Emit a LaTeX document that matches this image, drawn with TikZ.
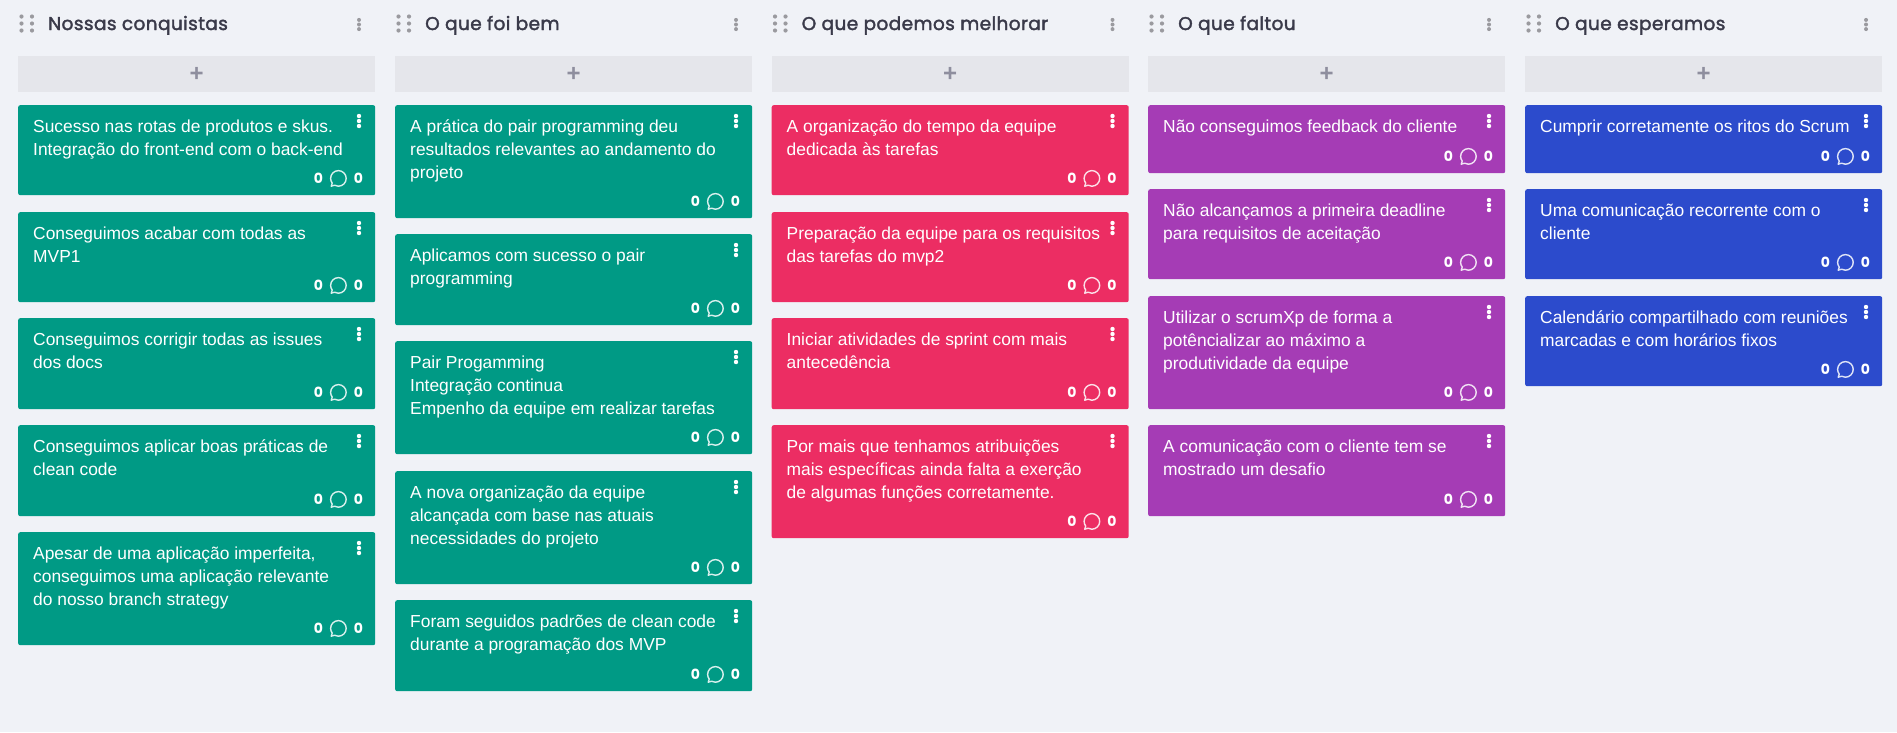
\documentclass[tikz,border=0pt]{standalone}
\usepackage{fontspec}
\setmainfont{Liberation Sans}
\newfontfamily\headfont[FakeBold=2,LetterSpace=2.2]{Poppins}
\newfontfamily\numfont{Poppins}
\definecolor{bgc}{HTML}{F0F2F7}
\definecolor{addc}{HTML}{E5E6EB}
\definecolor{greenc}{HTML}{009A85}
\definecolor{redc}{HTML}{EC2D63}
\definecolor{purplec}{HTML}{A53CB5}
\definecolor{bluec}{HTML}{2C4BCC}
\definecolor{headc}{HTML}{3A3A4A}
\definecolor{gripc}{HTML}{9A9A9F}
\definecolor{plusc}{HTML}{8E8E9E}
\tikzset{
 cardbox/.style={fill=#1,rounded corners=2pt,inner sep=0pt,draw=none,anchor=north west,minimum width=357pt},
 cardtext/.style={anchor=north west,inner sep=0pt,text=white,align=left,font=\fontsize{17.4}{23}\selectfont},
 countl/.style={text=white,inner sep=0pt,font=\numfont\bfseries\fontsize{14}{14}\selectfont},
 headtext/.style={anchor=base west,inner sep=0pt,text=headc,font=\headfont\fontsize{18.5}{22}\selectfont},
 addbox/.style={fill=addc,inner sep=0pt,anchor=north west,minimum width=357pt,minimum height=36pt},
 plusl/.style={inner sep=0pt,text=plusc,font=\bfseries\fontsize{24}{24}\selectfont},
}
\newcommand{\dotsv}[5]{\foreach \k in {-1,0,1}{\fill[#3] (#1,#2+\k*#4) circle (#5);}}
\newcommand{\grip}[2]{\foreach \i in {0,10.5}{\foreach \k in {-7,0,7}{\fill[gripc] (#1+\i,#2+\k) circle (2.1pt);}}}
\newcommand{\colhead}[3]{%
 \grip{#1+3.5}{23.5}
 \node[headtext] (h#3) at (#1+30,30) {#2};
 \dotsv{#1+341}{24.5}{gripc}{4.6}{2pt}
 \node[addbox] (a#3) at (#1,56) {};
 \node[plusl] (p#3) at (a#3.center) {+};
}
% x, y, height, colour, name, text
\newcommand{\card}[6]{%
 \node[cardbox=#4,minimum height=#3 pt] (#5) at (#1,#2) {};
 \node[cardtext] (#5t) at (#1+15,#2+12.5) {\rule{0pt}{15pt}#6};
 \dotsv{#1+341}{#2+16}{white}{5}{2.2pt}
 \node[countl] (#5a) at ([shift={(-57,-17)}]#5.south east) {0};
 \node[countl] (#5b) at ([shift={(-17,-17)}]#5.south east) {0};
 \begin{scope}[shift={([shift={(-37,-17)}]#5.south east)}]
 \draw[white!85!#4,line width=1.4pt,line join=round] (-6.2,4.7)
   .. controls (-7.2,3.2) and (-7.8,1.6) .. (-7.8,0)
   .. controls (-7.8,-4.3) and (-4.3,-7.8) .. (0,-7.8)
   .. controls (4.3,-7.8) and (7.8,-4.3) .. (7.8,0)
   .. controls (7.8,4.3) and (4.3,7.8) .. (0,7.8)
   .. controls (-1.4,7.8) and (-2.8,7.4) .. (-3.9,6.8)
   -- (-7.2,7.8) -- cycle;
 \end{scope}
}
\begin{document}
\begin{tikzpicture}[x=1pt,y=-1pt]
\fill[bgc] (0,0) rectangle (1897,732);
\useasboundingbox (0,0) rectangle (1897,732);
\colhead{18}{Nossas conquistas}{A}
\colhead{395}{O que foi bem}{B}
\colhead{771.5}{O que podemos melhorar}{C}
\colhead{1148}{O que faltou}{D}
\colhead{1525}{O que esperamos}{E}
\card{18}{105}{90}{greenc}{a1}{Sucesso nas rotas de produtos e skus.\\Integração do front-end com o back-end}
\card{18}{212}{90}{greenc}{a2}{Conseguimos acabar com todas as\\MVP1}
\card{18}{318}{91}{greenc}{a3}{Conseguimos corrigir todas as issues\\dos docs}
\card{18}{425}{91}{greenc}{a4}{Conseguimos aplicar boas práticas de\\clean code}
\card{18}{532}{113}{greenc}{a5}{Apesar de uma aplicação imperfeita,\\conseguimos uma aplicação relevante\\do nosso branch strategy}
\card{395}{105}{113}{greenc}{b1}{A prática do pair programming deu\\resultados relevantes ao andamento do\\projeto}
\card{395}{234}{91}{greenc}{b2}{Aplicamos com sucesso o pair\\programming}
\card{395}{341}{113}{greenc}{b3}{Pair Progamming\\Integração continua\\Empenho da equipe em realizar tarefas}
\card{395}{471}{113}{greenc}{b4}{A nova organização da equipe\\alcançada com base nas atuais\\necessidades do projeto}
\card{395}{600}{91}{greenc}{b5}{Foram seguidos padrões de clean code\\durante a programação dos MVP}
\card{771.5}{105}{90}{redc}{c1}{A organização do tempo da equipe\\dedicada às tarefas}
\card{771.5}{212}{90}{redc}{c2}{Preparação da equipe para os requisitos\\das tarefas do mvp2}
\card{771.5}{318}{91}{redc}{c3}{Iniciar atividades de sprint com mais\\antecedência}
\card{771.5}{425}{113}{redc}{c4}{Por mais que tenhamos atribuições\\mais específicas ainda falta a exerção\\de algumas funções corretamente.}
\card{1148}{105}{68}{purplec}{d1}{Não conseguimos feedback do cliente}
\card{1148}{189}{90}{purplec}{d2}{Não alcançamos a primeira deadline\\para requisitos de aceitação}
\card{1148}{296}{113}{purplec}{d3}{Utilizar o scrumXp de forma a\\potêncializar ao máximo a\\produtividade da equipe}
\card{1148}{425}{91}{purplec}{d4}{A comunicação com o cliente tem se\\mostrado um desafio}
\card{1525}{105}{68}{bluec}{e1}{Cumprir corretamente os ritos do Scrum}
\card{1525}{189}{90}{bluec}{e2}{Uma comunicação recorrente com o\\cliente}
\card{1525}{296}{90}{bluec}{e3}{Calendário compartilhado com reuniões\\marcadas e com horários fixos}
\end{tikzpicture}
\end{document}
